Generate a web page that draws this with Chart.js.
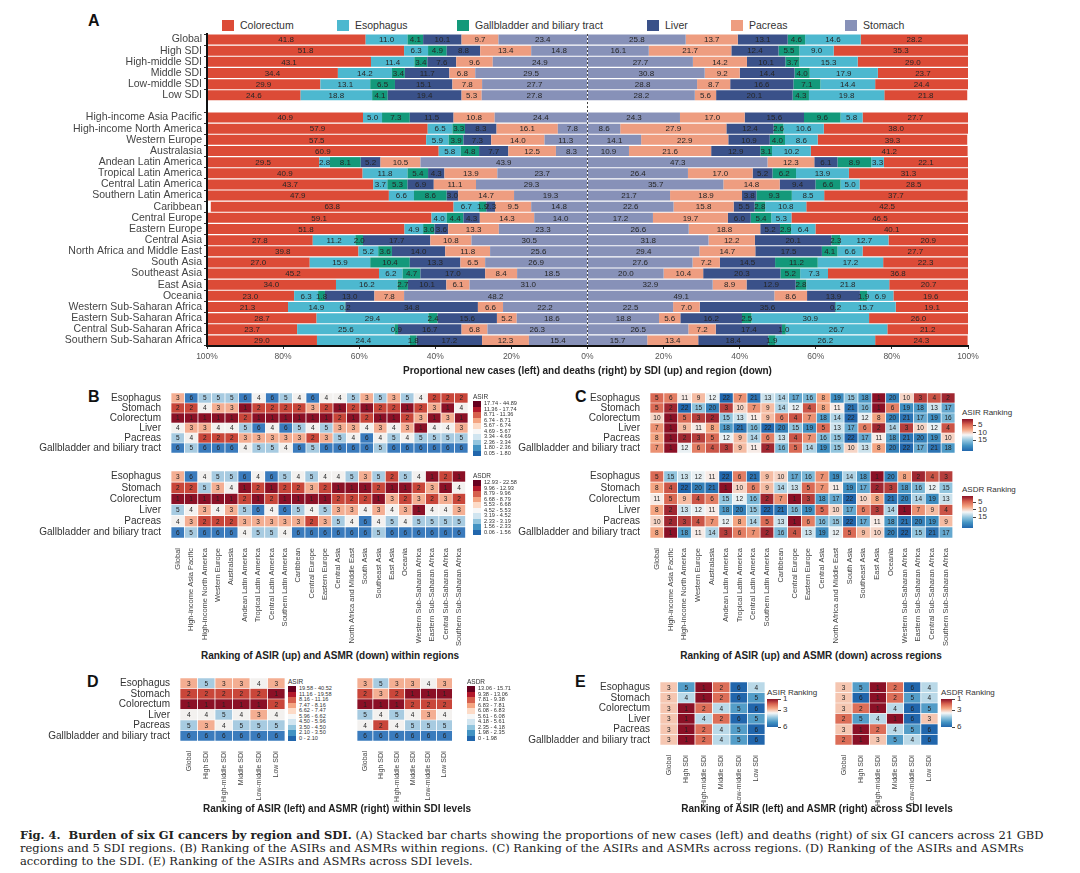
<!DOCTYPE html>
<html>
<head>
<meta charset="utf-8">
<script src="https://cdn.jsdelivr.net/npm/chart.js@4.4.0/dist/chart.umd.min.js"></script>
<style>
  body { margin:0; width:1080px; height:873px; background:#fff; position:relative; overflow:hidden;
         font-family:"Liberation Sans", Arial, sans-serif; color:#333; }
  canvas { position:absolute; }
  .letter { position:absolute; font-weight:bold; font-size:16px; color:#111; line-height:16px; }
  .ptitle { position:absolute; font-weight:bold; font-size:10px; color:#222; white-space:nowrap; transform:translateX(-50%); }
  .aleg { position:absolute; top:20px; left:222px; display:flex; font-size:10.5px; color:#333; line-height:11px; }
  .aleg .it { display:flex; align-items:center; }
  .aleg .sw { width:12px; height:11px; margin-right:6px; }
  .dleg { position:absolute; font-size:5.6px; color:#333; }
  .dleg .dt { font-size:6.5px; line-height:7px; margin-bottom:1px; }
  .dleg .di { height:5.5px; line-height:5.5px; white-space:nowrap; }
  .dleg .sw { display:inline-block; width:8px; height:5.5px; vertical-align:top; margin-right:3px; }
  .cbar { position:absolute; font-size:8px; color:#333; }
  .cbar .ct { white-space:nowrap; line-height:9px; }
  .cbar .bar { position:absolute; left:0; width:11px; }
  .cbar .tk { position:absolute; left:11px; width:3px; height:1px; background:#444; }
  .cbar .tl { position:absolute; left:16px; line-height:8px; }
  .caption { position:absolute; left:20px; top:829px; font-family:"DejaVu Serif", serif; font-size:11.5px;
             line-height:13px; color:#222; white-space:nowrap; }
</style>
</head>
<body>
<div class="letter" style="left:88px;top:13px">A</div>
<div class="letter" style="left:88px;top:389px">B</div>
<div class="letter" style="left:575px;top:389px">C</div>
<div class="letter" style="left:87px;top:674px">D</div>
<div class="letter" style="left:575px;top:674px">E</div>

<div class="aleg" id="legA"></div>

<canvas id="chartA" width="1080" height="380" style="left:0;top:0"></canvas>
<canvas id="bTop" width="470" height="76" style="left:0;top:385px"></canvas>
<canvas id="bBot" width="470" height="185" style="left:0;top:463px"></canvas>
<canvas id="cTop" width="477" height="76" style="left:480px;top:385px"></canvas>
<canvas id="cBot" width="477" height="185" style="left:480px;top:463px"></canvas>
<canvas id="dLeft" width="287" height="134" style="left:0;top:670px"></canvas>
<canvas id="dRight" width="98" height="134" style="left:357px;top:670px"></canvas>
<canvas id="eLeft" width="247" height="134" style="left:520px;top:674px"></canvas>
<canvas id="eRight" width="105" height="134" style="left:835px;top:674px"></canvas>

<div class="ptitle" style="left:330px;top:650px">Ranking of ASIR (up) and ASMR (down) within regions</div>
<div class="ptitle" style="left:811px;top:650px">Ranking of ASIR (up) and ASMR (down) across regions</div>
<div class="ptitle" style="left:337px;top:803px">Ranking of ASIR (left) and ASMR (right) within SDI levels</div>
<div class="ptitle" style="left:817px;top:803px">Ranking of ASIR (left) and ASMR (right) across SDI levels</div>

<div class="caption">
<b>Fig. 4.&nbsp; Burden of six GI cancers by region and SDI.</b> (A) Stacked bar charts showing the proportions of new cases (left) and deaths (right) of six GI cancers across 21 GBD<br>
regions and 5 SDI regions. (B) Ranking of the ASIRs and ASMRs within regions. (C) Ranking of the ASIRs and ASMRs across regions. (D) Ranking of the ASIRs and ASMRs<br>
according to the SDI. (E) Ranking of the ASIRs and ASMRs across SDI levels.
</div>

<script>
// ---------- panel A data ----------
var rowsA = ['Global','High SDI','High-middle SDI','Middle SDI','Low-middle SDI','Low SDI','',
  'High-income Asia Pacific','High-income North America','Western Europe','Australasia',
  'Andean Latin America','Tropical Latin America','Central Latin America','Southern Latin America',
  'Caribbean','Central Europe','Eastern Europe','Central Asia','North Africa and Middle East',
  'South Asia','Southeast Asia','East Asia','Oceania','Western Sub-Saharan Africa',
  'Eastern Sub-Saharan Africa','Central Sub-Saharan Africa','Southern Sub-Saharan Africa'];

var cancers = ['Colorectum','Esophagus','Gallbladder and biliary tract','Liver','Pacreas','Stomach'];
var cancerColors = ['#dc4b37','#4db8cf','#13997a','#3a5189','#ee9d80','#8791b8'];

// new cases (%), drawn to the left
var casesColorectum  = [41.8,51.8,43.1,34.4,29.9,24.6,null,40.9,57.9,57.5,60.9,29.5,40.9,43.7,47.9,63.8,59.1,51.8,27.8,39.8,27.0,45.2,34.0,23.0,21.3,28.7,23.7,29.0];
var casesEsophagus   = [11.0,6.3,11.4,14.2,13.1,18.8,null,5.0,6.5,5.9,5.8,2.8,11.8,3.7,6.6,6.7,4.0,4.9,11.2,5.2,15.9,6.2,16.2,6.3,14.9,29.4,25.6,24.4];
var casesGallbladder = [4.1,4.9,3.4,3.4,6.5,4.1,null,7.3,3.3,3.9,4.8,8.1,5.4,5.3,8.6,1.9,4.4,3.0,2.0,3.6,10.4,4.7,2.7,1.8,0.2,2.4,0.9,1.8];
var casesLiver       = [10.1,8.8,7.6,11.7,15.1,19.4,null,11.5,8.3,7.3,7.7,5.2,4.3,6.9,3.0,2.3,4.3,3.6,17.7,14.0,13.3,17.0,10.1,13.0,34.8,15.6,16.7,17.2];
var casesPacreas     = [9.7,13.4,9.6,6.8,7.8,5.3,null,10.8,16.1,14.0,12.5,10.5,13.9,11.1,14.7,9.5,14.3,13.3,10.8,11.8,6.5,8.4,6.1,7.8,6.6,5.2,6.8,12.3];
var casesStomach     = [23.4,14.8,24.9,29.5,27.7,27.8,null,24.4,7.8,11.3,8.3,43.9,23.7,29.3,19.3,14.8,14.0,23.3,30.5,25.6,26.9,18.5,31.0,48.2,22.2,18.6,26.3,15.4];

// deaths (%), drawn to the right
var deathsColorectum  = [28.2,35.3,29.0,23.7,24.4,21.8,null,27.7,38.0,39.3,41.2,22.1,31.3,28.5,37.7,42.5,46.5,40.1,20.9,27.7,22.3,36.8,20.7,19.6,19.1,26.0,21.2,24.3];
var deathsEsophagus   = [14.6,9.0,15.3,17.9,14.4,19.8,null,5.8,10.6,8.6,10.2,3.3,13.9,5.0,8.5,10.8,5.3,6.4,12.7,6.6,17.2,7.3,21.8,6.9,15.7,30.9,26.7,26.2];
var deathsGallbladder = [4.6,5.5,3.7,4.0,7.1,4.3,null,9.6,2.6,4.0,3.1,8.9,6.2,6.6,9.3,2.8,5.4,2.9,2.3,4.1,11.2,5.2,2.8,1.9,0.2,2.5,1.0,1.9];
var deathsLiver       = [13.1,12.4,10.1,14.4,16.6,20.1,null,15.6,12.4,10.9,12.9,6.1,5.2,9.4,3.8,5.5,6.0,5.2,20.1,17.5,14.5,20.3,12.9,13.9,35.6,16.2,17.4,18.4];
var deathsPacreas     = [13.7,21.7,14.2,9.2,8.7,5.6,null,17.0,27.9,22.9,21.6,12.3,17.0,14.8,18.9,15.8,19.7,18.8,12.2,14.7,7.2,10.4,8.9,8.6,7.0,5.6,7.2,13.4];
var deathsStomach     = [25.8,16.1,27.7,30.8,28.8,28.2,null,24.3,8.6,14.1,10.9,47.3,26.4,35.7,21.7,22.6,17.2,26.6,31.8,29.4,27.6,20.0,32.9,49.1,22.5,18.8,26.5,15.7];

var xTicksA = [-100,-80,-60,-40,-20,0,20,40,60,80,100];

// ---------- heatmap data ----------
var rowsH = ['Esophagus','Stomach','Colorectum','Liver','Pacreas','Gallbladder and biliary tract'];
var colsRegion = ['Global','High-income Asia Pacific','High-income North America','Western Europe','Australasia',
  'Andean Latin America','Tropical Latin America','Central Latin America','Southern Latin America','Caribbean',
  'Central Europe','Eastern Europe','Central Asia','North Africa and Middle East','South Asia','Southeast Asia',
  'East Asia','Oceania','Western Sub-Saharan Africa','Eastern Sub-Saharan Africa','Central Sub-Saharan Africa',
  'Southern Sub-Saharan Africa'];
var colsSdi = ['Global','High SDI','High-middle SDI','Middle SDI','Low-middle SDI','Low SDI'];

// B: rank within each region
var rankAsirWithinRegion = [
  [3,6,5,5,5,6,4,6,5,4,6,4,4,5,3,5,3,5,4,2,2,2],
  [2,2,4,3,3,1,2,2,2,2,3,2,1,2,1,2,2,1,2,3,1,4],
  [1,1,1,1,1,2,1,1,1,1,1,1,2,1,2,1,1,2,3,1,3,1],
  [4,3,3,4,4,5,6,4,6,5,4,5,3,3,4,3,4,3,1,4,4,3],
  [5,4,2,2,2,3,3,3,3,3,2,3,5,4,6,4,5,4,5,5,5,5],
  [6,5,6,6,6,4,5,5,4,6,5,6,6,6,6,5,6,6,6,6,6,6]];
var rankAsdrWithinRegion = [
  [3,6,4,5,5,6,4,6,5,4,5,4,4,5,3,5,2,5,4,1,2,1],
  [2,2,5,3,4,1,2,1,2,2,3,2,1,1,1,2,1,1,2,3,1,4],
  [1,1,1,1,1,2,1,2,1,1,1,1,2,2,2,1,3,2,3,2,3,2],
  [5,4,3,4,3,5,6,4,6,5,4,5,3,3,4,3,4,3,1,4,4,3],
  [4,3,2,2,2,3,3,3,3,3,2,3,5,4,6,4,5,4,5,5,5,5],
  [6,5,6,6,6,4,5,5,4,6,6,6,6,6,6,5,6,6,6,6,6,6]];

// C: rank across regions
var rankAsirAcrossRegion = [
  [5,6,11,9,12,22,7,21,13,14,17,16,8,19,15,18,1,20,10,3,4,2],
  [5,2,22,15,20,3,10,7,9,14,12,4,8,11,21,16,1,6,19,18,13,17],
  [10,1,5,3,2,15,13,11,9,6,4,7,18,14,22,12,8,20,21,17,19,16],
  [7,1,9,11,8,18,21,16,22,20,15,19,5,13,17,6,2,14,3,10,12,4],
  [8,1,2,3,5,12,9,14,6,13,4,7,16,15,22,17,11,18,21,20,19,10],
  [7,1,12,6,4,3,9,11,2,16,5,14,19,15,10,13,8,20,22,17,21,18]];
var rankAsdrAcrossRegion = [
  [5,15,13,12,11,22,6,21,9,10,17,16,7,19,14,18,1,20,8,2,4,3],
  [8,4,22,20,21,1,10,6,9,14,13,5,7,11,19,17,2,3,18,16,12,15],
  [11,5,9,4,6,15,12,16,2,7,1,3,18,17,22,10,8,21,20,14,19,13],
  [8,2,13,12,11,18,20,15,22,21,16,19,5,10,17,6,3,14,1,7,9,4],
  [10,2,3,4,7,12,8,14,5,13,1,6,16,15,22,17,11,18,21,20,19,9],
  [8,1,18,11,14,3,6,7,2,16,4,13,19,12,5,9,10,20,22,15,21,17]];

// D: rank within SDI level
var rankAsirWithinSdi = [[3,5,3,3,4,3],[2,2,2,2,2,1],[1,1,1,1,1,2],[4,4,5,4,3,4],[5,3,4,5,5,5],[6,6,6,6,6,6]];
var rankAsdrWithinSdi = [[3,5,3,3,4,3],[2,3,2,1,1,1],[1,1,1,2,2,2],[5,4,5,4,3,4],[4,2,4,5,5,5],[6,6,6,6,6,6]];

// E: rank across SDI levels
var rankAsirAcrossSdi = [[3,5,1,2,6,4],[3,4,1,2,6,5],[3,1,2,4,5,6],[3,1,4,2,6,5],[3,1,2,4,5,6],[3,1,2,4,5,6]];
var rankAsdrAcrossSdi = [[3,5,1,2,6,4],[3,6,1,2,5,4],[3,2,1,4,6,5],[2,5,4,1,6,3],[3,1,2,4,5,6],[2,1,3,5,4,6]];

// legend bins
var binsAsirB = ['17.74 - 44.89','11.36 - 17.74','8.71 - 11.36','6.74 - 8.71','5.67 - 6.74','4.69 - 5.67','3.34 - 4.69','2.36 - 3.34','1.80 - 2.36','0.05 - 1.80'];
var binsAsdrB = ['12.93 - 22.58','9.96 - 12.93','8.79 - 9.96','6.68 - 8.79','5.53 - 6.68','4.52 - 5.53','3.19 - 4.52','2.33 - 3.19','1.56 - 2.33','0.06 - 1.56'];
var binsAsirD = ['19.58 - 40.52','11.16 - 19.58','8.16 - 11.16','7.47 - 8.16','6.62 - 7.47','5.96 - 6.62','4.50 - 5.96','3.50 - 4.50','2.10 - 3.50','0 - 2.10'];
var binsAsdrD = ['13.06 - 15.71','9.38 - 13.06','7.81 - 9.38','6.83 - 7.81','6.08 - 6.83','5.61 - 6.08','4.18 - 5.61','2.35 - 4.18','1.98 - 2.35','0 - 1.98'];

// ---------- colours ----------
var binColors = ['#67001f','#b2182b','#d6604d','#f4a582','#fddbc7','#f7f7f7','#d1e5f0','#92c5de','#4393c3','#2166ac'];
var rank6Colors = ['#8b1026','#c9463a','#f4ae92','#f3f1ef','#a7cbe1','#3a7bbd'];
var gradStops = ['#8b1026','#d6604d','#f4a582','#f7f7f7','#92c5de','#4393c3','#2166ac'];

function hexRgb(h) { return [parseInt(h.substr(1,2),16), parseInt(h.substr(3,2),16), parseInt(h.substr(5,2),16)]; }
function gradColor(t) {
  var n = gradStops.length - 1;
  var p = Math.min(Math.max(t, 0), 1) * n;
  var i = Math.min(Math.floor(p), n - 1), f = p - i;
  var a = hexRgb(gradStops[i]), b = hexRgb(gradStops[i + 1]);
  return 'rgb(' + a.map(function(v, k) { return Math.round(v + (b[k] - v) * f); }).join(',') + ')';
}
function rank6(r) { return rank6Colors[r - 1]; }
function rank22(r) { return gradColor((r - 1) / 21); }
function rankSdi(r) { return gradColor((r - 1) / 5); }

Chart.defaults.font.family = '"Liberation Sans", Arial, sans-serif';
Chart.defaults.color = '#333';
Chart.defaults.animation = false;
Chart.defaults.plugins.legend.display = false;
Chart.defaults.plugins.tooltip.enabled = false;

// ---------- panel A ----------
var casesA = [casesColorectum, casesEsophagus, casesGallbladder, casesLiver, casesPacreas, casesStomach];
var deathsA = [deathsColorectum, deathsEsophagus, deathsGallbladder, deathsLiver, deathsPacreas, deathsStomach];

var dsA = [];
[5,4,3,2,1,0].forEach(function(i) {   // stomach sits next to the centre line
  dsA.push({ label: cancers[i], data: casesA[i].map(function(v) { return v == null ? null : -v; }),
             backgroundColor: cancerColors[i], stack: 's' });
  dsA.push({ label: cancers[i], data: deathsA[i], backgroundColor: cancerColors[i], stack: 's' });
});

var legHtml = '';
var legWidths = [115,120,190,84,114,80];
cancers.forEach(function(c, i) {
  legHtml += '<div class="it" style="width:' + legWidths[i] + 'px"><span class="sw" style="background:' +
             cancerColors[i] + '"></span>' + c + '</div>';
});
document.getElementById('legA').innerHTML = legHtml;

var segText = {
  id: 'segText',
  afterDatasetsDraw: function(chart) {
    var ctx = chart.ctx;
    ctx.save();
    ctx.font = '8px "Liberation Sans", Arial';
    ctx.fillStyle = '#262626';
    ctx.textAlign = 'center';
    ctx.textBaseline = 'middle';
    chart.data.datasets.forEach(function(ds, i) {
      chart.getDatasetMeta(i).data.forEach(function(el, j) {
        var v = ds.data[j];
        if (v == null) return;
        ctx.fillText(Math.abs(v).toFixed(1), (el.x + el.base) / 2, el.y + 0.5);
      });
    });
    ctx.restore();
  }
};

new Chart(document.getElementById('chartA'), {
  type: 'bar',
  data: { labels: rowsA, datasets: dsA },
  options: {
    responsive: false,
    indexAxis: 'y',
    layout: { padding: { left: 0, right: 112, top: 34, bottom: 0 } },
    datasets: { bar: { barPercentage: 0.9, categoryPercentage: 1, borderWidth: 0 } },
    scales: {
      y: {
        stacked: true,
        ticks: { font: { size: 10.5 }, color: '#444', padding: 2, autoSkip: false },
        grid: { drawOnChartArea: false, tickLength: 3,
                tickColor: function(c) { return c.index === 6 ? 'rgba(0,0,0,0)' : '#333'; } },
        border: { display: true, color: '#111', width: 2, z: 1 },
        afterFit: function(s) { s.width = 207; }
      },
      x: {
        stacked: true, min: -100, max: 100,
        afterBuildTicks: function(s) { s.ticks = xTicksA.map(function(v) { return { value: v }; }); },
        ticks: { font: { size: 8.5 }, color: '#555', padding: 3,
                 callback: function(v) { return Math.abs(v) + '%'; } },
        grid: { z: 1, lineWidth: 1, tickLength: 3, tickColor: '#333',
                color: function(c) { return c.tick && c.tick.value === 0 ? '#444' : 'rgba(0,0,0,0)'; } },
        border: { display: true, color: '#111', width: 2, dash: [2, 2], z: 1 },
        title: { display: true, text: 'Proportional new cases (left) and deaths (right) by SDI (up) and region (down)',
                 font: { size: 10, weight: 'bold' }, color: '#222', padding: { top: 2, bottom: 3 } },
        afterFit: function(s) { s.height = 34; }
      }
    }
  },
  plugins: [segText]
});

// ---------- heatmaps ----------
var cellText = {
  id: 'cellText',
  afterDatasetsDraw: function(chart) {
    var ctx = chart.ctx;
    ctx.save();
    ctx.font = '6.5px "Liberation Sans", Arial';
    ctx.fillStyle = '#222';
    ctx.textAlign = 'center';
    ctx.textBaseline = 'middle';
    chart.data.datasets.forEach(function(ds, i) {
      chart.getDatasetMeta(i).data.forEach(function(el, j) {
        ctx.fillText(ds.ranks[j], el.x, (el.y + el.base) / 2 + 0.5);
      });
    });
    ctx.restore();
  }
};

function heatmap(id, cols, ranks, colorOf, o) {
  var datasets = [];
  for (var r = rowsH.length - 1; r >= 0; r--) {
    datasets.push({
      label: rowsH[r],
      data: cols.map(function() { return 1; }),
      ranks: ranks[r],
      backgroundColor: ranks[r].map(colorOf),
      borderColor: '#ffffff', borderWidth: 0.7, borderSkipped: false,
      barPercentage: 1, categoryPercentage: 1
    });
  }
  return new Chart(document.getElementById(id), {
    type: 'bar',
    data: { labels: cols, datasets: datasets },
    options: {
      responsive: false,
      layout: { padding: { left: 0, right: 2, top: 8, bottom: o.showX ? 0 : 3 } },
      scales: {
        x: {
          display: o.showX, stacked: true,
          grid: { display: false }, border: { display: false },
          ticks: { autoSkip: false, maxRotation: 90, minRotation: 90, font: { size: o.xf }, color: '#444', padding: 2 },
          afterFit: function(s) { s.height = o.xh; }
        },
        y: {
          display: o.showY, stacked: true, min: 0, max: 6,
          grid: { display: false }, border: { display: false },
          afterBuildTicks: function(s) { s.ticks = [0.5,1.5,2.5,3.5,4.5,5.5].map(function(v) { return { value: v }; }); },
          ticks: { autoSkip: false, font: { size: 10 }, color: '#333', padding: 2,
                   callback: function(v) { return rowsH[5 - Math.floor(v)]; } },
          afterFit: function(s) { s.width = o.yw; }
        }
      }
    },
    plugins: [cellText]
  });
}

heatmap('bTop', colsRegion, rankAsirWithinRegion, rank6, { showX: false, showY: true, yw: 171, xh: 0, xf: 7.5 });
heatmap('bBot', colsRegion, rankAsdrWithinRegion, rank6, { showX: true, showY: true, yw: 171, xh: 110, xf: 7.5 });
heatmap('cTop', colsRegion, rankAsirAcrossRegion, rank22, { showX: false, showY: true, yw: 170, xh: 0, xf: 7.5 });
heatmap('cBot', colsRegion, rankAsdrAcrossRegion, rank22, { showX: true, showY: true, yw: 170, xh: 110, xf: 7.5 });
heatmap('dLeft', colsSdi, rankAsirWithinSdi, rank6, { showX: true, showY: true, yw: 180, xh: 63, xf: 7 });
heatmap('dRight', colsSdi, rankAsdrWithinSdi, rank6, { showX: true, showY: false, yw: 0, xh: 63, xf: 7 });
heatmap('eLeft', colsSdi, rankAsirAcrossSdi, rankSdi, { showX: true, showY: true, yw: 140, xh: 63, xf: 7 });
heatmap('eRight', colsSdi, rankAsdrAcrossSdi, rankSdi, { showX: true, showY: false, yw: 0, xh: 63, xf: 7 });

// ---------- heatmap legends ----------
function discreteLegend(left, top, title, labels) {
  var d = document.createElement('div');
  d.className = 'dleg';
  d.style.left = left + 'px';
  d.style.top = top + 'px';
  var h = '<div class="dt">' + title + '</div>';
  labels.forEach(function(l, i) {
    h += '<div class="di"><span class="sw" style="background:' + binColors[i] + '"></span>' + l + '</div>';
  });
  d.innerHTML = h;
  document.body.appendChild(d);
}
function colorBar(left, top, title, lo, hi, ticks, barH) {
  var d = document.createElement('div');
  d.className = 'cbar';
  d.style.left = left + 'px';
  d.style.top = top + 'px';
  var stops = gradStops.map(function(c, i) { return c + ' ' + (i * 100 / (gradStops.length - 1)).toFixed(1) + '%'; });
  var h = '<div class="ct">' + title + '</div>';
  h += '<div class="bar" style="top:11px;height:' + barH + 'px;background:linear-gradient(to bottom,' + stops.join(',') + ')"></div>';
  ticks.forEach(function(t) {
    var y = 11 + (t - lo) / (hi - lo) * barH;
    h += '<div class="tk" style="top:' + (y - 0.5) + 'px"></div>';
    h += '<div class="tl" style="top:' + (y - 4) + 'px">' + t + '</div>';
  });
  d.innerHTML = h;
  document.body.appendChild(d);
}

discreteLegend(473, 393, 'ASIR', binsAsirB);
discreteLegend(473, 472, 'ASDR', binsAsdrB);
discreteLegend(288, 678, 'ASIR', binsAsirD);
discreteLegend(467, 678, 'ASDR', binsAsdrD);
colorBar(962, 408, 'ASIR Ranking', 1, 22, [5, 10, 15], 32);
colorBar(962, 485, 'ASDR Ranking', 1, 22, [5, 10, 15], 32);
colorBar(767, 688, 'ASIR Ranking', 1, 6, [1, 3, 6], 28);
colorBar(941, 688, 'ASDR Ranking', 1, 6, [1, 3, 6], 28);
</script>
</body>
</html>
